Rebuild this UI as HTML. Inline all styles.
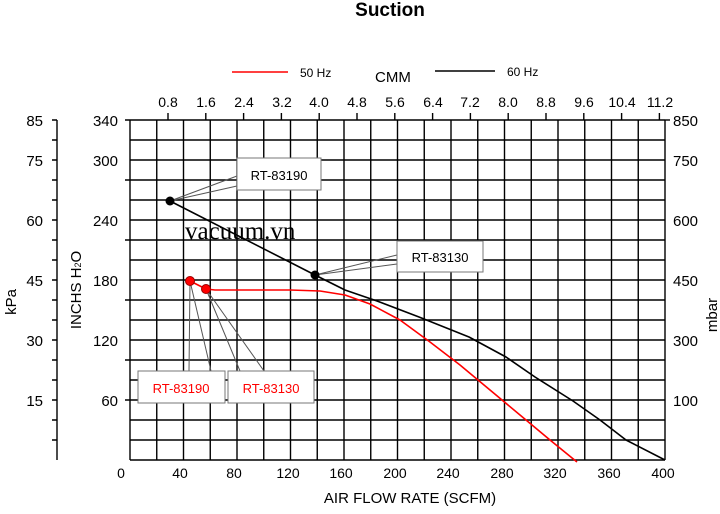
<!DOCTYPE html>
<html><head><style>body{margin:0;background:#fff}</style></head><body>
<svg width="720" height="509" viewBox="0 0 720 509" xmlns="http://www.w3.org/2000/svg" font-family="Liberation Sans, Arial, sans-serif">
<rect width="720" height="509" fill="#fff"/>
<text x="390" y="16" font-size="19" font-weight="bold" text-anchor="middle">Suction</text>
<line x1="232" y1="72" x2="288" y2="72" stroke="#f00" stroke-width="1.5"/>
<text x="300" y="77" font-size="12">50 Hz</text>
<line x1="435" y1="71" x2="495" y2="71" stroke="#000" stroke-width="1.5"/>
<text x="507" y="76" font-size="12">60 Hz</text>
<text x="375" y="82" font-size="15">CMM</text>
<g stroke="#000" stroke-width="1.4" fill="none">
<path d="M130 120H665M130 140H665M130 160H665M130 180H665M130 200H665M130 220H665M130 240H665M130 260H665M130 280H665M130 300H665M130 320H665M130 340H665M130 360H665M130 380H665M130 400H665M130 420H665M130 440H665M130 460H665"/>
<path d="M130 120V460M156.75 120V460M183.5 120V460M210.25 120V460M237 120V460M263.75 120V460M290.5 120V460M317.25 120V460M344 120V460M370.75 120V460M397.5 120V460M424.25 120V460M451 120V460M477.75 120V460M504.5 120V460M531.25 120V460M558 120V460M584.75 120V460M611.5 120V460M638.25 120V460M665 120V460"/>
<path d="M125 120H130M125 180H130M125 240H130M125 300H130M125 360H130M125 400H130"/>
<path d="M57 120V460M52 120H57M52 140H57M52 160H57M52 180H57M52 200H57M52 220H57M52 240H57M52 260H57M52 280H57M52 300H57M52 320H57M52 340H57M52 360H57M52 380H57M52 400H57M52 420H57M52 440H57"/>
<path d="M665 120H670"/>
<path d="M168 113V120M205.8 113V120M243.6 113V120M281.4 113V120M319.2 113V120M357 113V120M394.8 113V120M432.6 113V120M470.4 113V120M508.2 113V120M546 113V120M583.8 113V120M621.6 113V120M659.4 113V120"/>
</g>
<g font-size="14" text-anchor="middle">
<text x="168" y="107">0.8</text><text x="206" y="107">1.6</text><text x="244" y="107">2.4</text><text x="282" y="107">3.2</text><text x="319" y="107">4.0</text><text x="357" y="107">4.8</text><text x="395" y="107">5.6</text><text x="433" y="107">6.4</text><text x="470" y="107">7.2</text><text x="508" y="107">8.0</text><text x="546" y="107">8.8</text><text x="584" y="107">9.6</text><text x="622" y="107">10.4</text><text x="660" y="107">11.2</text>
<text x="121" y="478">0</text><text x="180" y="478">40</text><text x="234" y="478">80</text><text x="288" y="478">120</text><text x="341" y="478">160</text><text x="395" y="478">200</text><text x="448" y="478">240</text><text x="502" y="478">280</text><text x="555" y="478">320</text><text x="609" y="478">360</text><text x="663" y="478">400</text>
</g>
<g font-size="15" text-anchor="end">
<text x="118" y="126">340</text><text x="118" y="166">300</text><text x="118" y="226">240</text><text x="118" y="286">180</text><text x="118" y="346">120</text><text x="118" y="406">60</text>
<text x="43" y="126">85</text><text x="43" y="166">75</text><text x="43" y="226">60</text><text x="43" y="286">45</text><text x="43" y="346">30</text><text x="43" y="406">15</text>
</g>
<g font-size="15">
<text x="673" y="126">850</text><text x="673" y="166">750</text><text x="673" y="226">600</text><text x="673" y="286">450</text><text x="673" y="346">300</text><text x="673" y="406">100</text>
</g>
<text x="410" y="503" font-size="15" text-anchor="middle">AIR FLOW RATE (SCFM)</text>
<text transform="translate(16,302) rotate(-90)" font-size="15" text-anchor="middle">kPa</text>
<text transform="translate(81,290) rotate(-90)" font-size="15" text-anchor="middle">INCHS H<tspan font-size="9">2</tspan>O</text>
<text transform="translate(717,315) rotate(-90)" font-size="15" text-anchor="middle">mbar</text>
<text x="185" y="239" font-size="25" font-family="Liberation Serif, serif">vacuum.vn</text>
<path d="M170 201L315 275L345 290L377 301L419 317L469 337L506 357L535 377L573 401L600 420L626 440L665 460" stroke="#000" stroke-width="1.6" fill="none" stroke-linejoin="round"/>
<path d="M190 281L206 289L215 290L290 290L320 291L345 295L370 304L400 320L430 342L460 365L490 390L520 415L550 440L577 462" stroke="#f00" stroke-width="1.6" fill="none" stroke-linejoin="round"/>
<g stroke="#555" stroke-width="1" fill="none">
<path d="M170 201L237 176M170 201L237 186M315 275L397 255M315 275L397 264"/>
<path d="M190 281L189 371M190 281L211 371M206 289L240 371M206 289L264 371"/>
</g>
<g fill="#fff" stroke="#777" stroke-width="1">
<rect x="237" y="158" width="84" height="32"/><rect x="397" y="241" width="86" height="31"/>
<rect x="138" y="371" width="87" height="32"/><rect x="228" y="371" width="86" height="32"/>
</g>
<text x="279" y="180" font-size="13" text-anchor="middle">RT-83190</text>
<text x="440" y="262" font-size="13" text-anchor="middle">RT-83130</text>
<text x="181" y="393" font-size="13" fill="#f00" text-anchor="middle">RT-83190</text>
<text x="271" y="393" font-size="13" fill="#f00" text-anchor="middle">RT-83130</text>
<circle cx="170" cy="201" r="4.5" fill="#000"/><circle cx="315" cy="275" r="4.5" fill="#000"/>
<circle cx="190" cy="281" r="4.5" fill="#f00" stroke="#900"/><circle cx="206" cy="289" r="4.5" fill="#f00" stroke="#900"/>
</svg>
</body></html>
